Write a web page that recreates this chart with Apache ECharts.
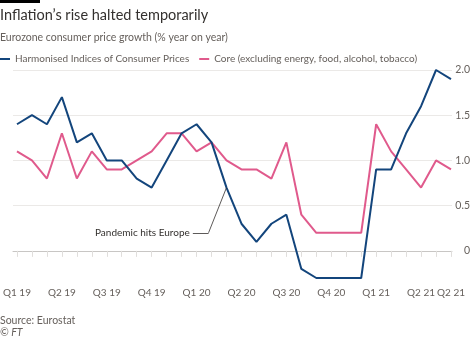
<!DOCTYPE html>
<html><head><meta charset="utf-8">
<script src="https://cdn.jsdelivr.net/npm/echarts@6/dist/echarts.min.js"></script>
<style>html,body{margin:0;padding:0;background:#fff}#c{width:474px;height:338px}</style>
</head><body><div id="c"></div>
<script>
const months = ['Jan 19','Feb 19','Mar 19','Apr 19','May 19','Jun 19','Jul 19','Aug 19','Sep 19','Oct 19','Nov 19','Dec 19',
  'Jan 20','Feb 20','Mar 20','Apr 20','May 20','Jun 20','Jul 20','Aug 20','Sep 20','Oct 20','Nov 20','Dec 20',
  'Jan 21','Feb 21','Mar 21','Apr 21','May 21','Jun 21'];
const hicp = [1.4,1.5,1.4,1.7,1.2,1.3,1.0,1.0,0.8,0.7,1.0,1.3,1.4,1.2,0.7,0.3,0.1,0.3,0.4,-0.2,-0.3,-0.3,-0.3,-0.3,0.9,0.9,1.3,1.6,2.0,1.9];
const core = [1.1,1.0,0.8,1.3,0.8,1.1,0.9,0.9,1.0,1.1,1.3,1.3,1.1,1.2,1.0,0.9,0.9,0.8,1.2,0.4,0.2,0.2,0.2,0.2,1.4,1.1,0.9,0.7,1.0,0.9];
const xTickLabels = {0:'Q1 19',3:'Q2 19',6:'Q3 19',9:'Q4 19',12:'Q1 20',15:'Q2 20',18:'Q3 20',21:'Q4 20',24:'Q1 21',27:'Q2 21',29:'Q2 21'};
const yTicks = [0,0.5,1.0,1.5,2.0];
const annotation = {text:'Pandemic hits Europe', monthIndex:14};

const F = 'Lato, "Noto Sans", sans-serif';
const grey = '#66605c';
const blue = '#13457c', pink = '#e05a8c';
const pairs = arr => arr.map((v,i)=>[i,v]);
const labelIdx = Object.keys(xTickLabels).map(Number);

const chart = echarts.init(document.getElementById('c'), null, {renderer:'canvas'});
chart.setOption({
  animation:false,
  backgroundColor:'#ffffff',
  textStyle:{fontFamily:F},
  title:[
    {text:"Inflation\u2019s rise halted temporarily", left:0, top:8, padding:0, textStyle:{fontFamily:F, fontSize:14.5, fontWeight:'normal', color:'#33302e'}},
    {text:'Eurozone consumer price growth (% year on year)', left:0, top:32, padding:0, textStyle:{fontFamily:F, fontSize:10.5, fontWeight:'normal', color:grey}},
    {text:'Source: Eurostat', left:0, top:315, padding:0, textStyle:{fontFamily:F, fontSize:10.5, fontWeight:'normal', color:grey}},
    {text:'\u00a9 FT', left:0, top:327, padding:0, textStyle:{fontFamily:F, fontSize:10.5, fontWeight:'normal', fontStyle:'italic', color:grey}}
  ],
  graphic:[{type:'rect', left:0, top:0, shape:{width:40, height:3}, style:{fill:'#000'}}],
  legend:{
    left:0, top:54, padding:0, itemWidth:10, itemHeight:2, itemGap:10, icon:'rect',
    textStyle:{fontFamily:F, fontSize:10, color:grey},
    data:['Harmonised Indices of Consumer Prices','Core (excluding energy, food, alcohol, tobacco)']
  },
  grid:{left:12, right:22, top:70, bottom:60},
  xAxis:{
    type:'value', min:-0.267, max:29.067,
    axisLine:{show:true, lineStyle:{color:'#c8c6c4', width:1}},
    axisTick:{show:true, customValues:months.map((m,i)=>i), length:6, lineStyle:{color:'#e0dedc'}},
    axisLabel:{customValues:labelIdx, formatter:v=>xTickLabels[Math.round(v)]||'', color:grey, fontSize:10, fontFamily:F, margin:10, hideOverlap:false, showMaxLabel:true, showMinLabel:true},
    splitLine:{show:false}
  },
  yAxis:{
    type:'value', position:'right', min:-0.3, max:2.0,
    axisLine:{show:false},
    axisTick:{show:false, customValues:yTicks},
    axisLabel:{customValues:yTicks, formatter:v=> v===0?'0':v.toFixed(1), align:'right', margin:18, color:grey, fontSize:10.5, fontFamily:F},
    splitLine:{show:true, lineStyle:{color:'#ebe9e7', width:1}}
  },
  series:[
    {name:'Harmonised Indices of Consumer Prices', type:'line', data:pairs(hicp), showSymbol:false, symbol:'none',
     lineStyle:{color:blue, width:2}, itemStyle:{color:blue}, z:3,
     markLine:{silent:true, symbol:'none', animation:false,
       lineStyle:{color:'#33302e', width:0.8, type:'solid'},
       data:[
         [{coord:[annotation.monthIndex, hicp[annotation.monthIndex]]},{coord:[12.8,0.2]}],
         [{coord:[12.8,0.2]},{coord:[11.75,0.2], label:{show:true, position:'end', formatter:annotation.text, color:'#33302e', fontSize:10, fontFamily:F, distance:3}}]
       ],
       label:{show:false}
     }},
    {name:'Core (excluding energy, food, alcohol, tobacco)', type:'line', data:pairs(core), showSymbol:false, symbol:'none',
     lineStyle:{color:pink, width:2}, itemStyle:{color:pink}, z:2}
  ]
});
</script></body></html>
